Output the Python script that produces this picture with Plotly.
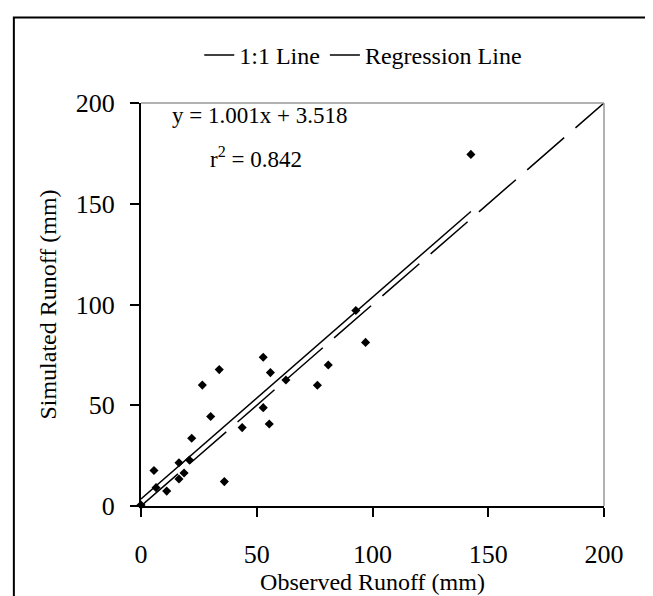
import plotly.graph_objects as go

observed = [0, 5.6, 6.5, 11.1, 16.4, 16.4, 18.6, 20.9, 21.9, 26.5, 30.1, 33.8,
            36.0, 43.7, 52.8, 52.8, 55.4, 55.9, 62.6, 76.2, 80.9, 92.8, 97.0, 142.5]
simulated = [0.5, 17.6, 9.1, 7.4, 13.4, 21.5, 16.4, 22.8, 33.6, 60.0, 44.4, 67.7,
             12.1, 38.9, 73.8, 48.8, 40.7, 66.2, 62.5, 59.9, 70.0, 97.0, 81.2, 174.5]
one_to_one = [0, 200]
slope = 1.001
intercept = 3.518
r2 = 0.842
ticks = [0, 50, 100, 150, 200]

font = "Liberation Serif"

fig = go.Figure()
fig.add_trace(go.Scatter(x=observed, y=simulated, mode="markers",
                         marker=dict(symbol="diamond", size=7, color="black"),
                         showlegend=False, cliponaxis=False))
fig.add_trace(go.Scatter(x=one_to_one, y=one_to_one, mode="lines", name="1:1 Line",
                         line=dict(color="black", width=1.5, dash="49px,15px")))
reg_x = [0, max(observed)]
reg_y = [slope * v + intercept for v in reg_x]
fig.add_trace(go.Scatter(x=reg_x, y=reg_y, mode="lines", name="Regression Line",
                         line=dict(color="black", width=1.5)))

fig.add_annotation(x=51, y=194, xref="x", yref="y", showarrow=False,
                   text=f"y = {slope}x + {intercept}", font=dict(size=23))
fig.add_annotation(x=49.5, y=173, xref="x", yref="y", showarrow=False,
                   text=f"r<sup>2</sup> = {r2}", font=dict(size=23))

# outer frame (runs off the right and bottom of the picture)
fig.add_shape(type="rect", xref="paper", yref="paper",
              x0=-0.2746, x1=1.15, y0=-0.26, y1=1.212,
              line=dict(color="black", width=2), layer="below")
# grey top/right of the plot area
fig.add_shape(type="line", xref="paper", yref="paper", x0=0, x1=1, y0=1, y1=1,
              line=dict(color="#999999", width=1.5))
fig.add_shape(type="line", xref="paper", yref="paper", x0=1, x1=1, y0=0, y1=1,
              line=dict(color="#999999", width=1.5))

axis_common = dict(range=[0, 200], tickvals=ticks, showgrid=False, zeroline=False,
                   showline=True, linecolor="black", linewidth=2,
                   ticks="outside", ticklen=9, tickwidth=1.5, tickcolor="black",
                   tickfont=dict(size=26, family=font, color="black"))

fig.update_xaxes(**axis_common, ticklabelstandoff=15,
                 title=dict(text="Observed Runoff (mm)", font=dict(size=24), standoff=4))
fig.update_yaxes(**axis_common, ticklabelstandoff=10,
                 title=dict(text="Simulated Runoff (mm)", font=dict(size=24), standoff=12))

fig.update_layout(
    width=653, height=596,
    margin=dict(l=133, r=57, t=95, b=98),
    paper_bgcolor="white", plot_bgcolor="white",
    font=dict(family=font, color="black", size=20),
    legend=dict(orientation="h", x=0.48, xanchor="center", y=1.118, yanchor="middle",
                font=dict(size=24), bgcolor="rgba(0,0,0,0)"),
    showlegend=True,
)

fig.write_html("out.html")
